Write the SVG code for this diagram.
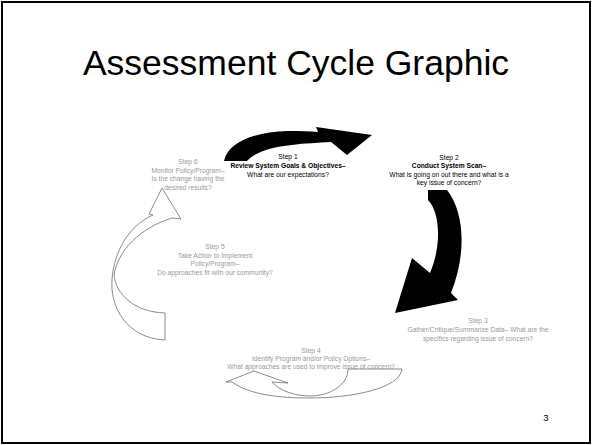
<svg xmlns="http://www.w3.org/2000/svg" width="592" height="445" viewBox="0 0 592 445">
<style>
.t{font-family:"Liberation Sans",Arial,sans-serif;text-anchor:middle}
.s{font-size:6.7px}
.k{fill:#000}
.g{fill:#9a9a9a}
.b{font-weight:bold}
.blk{fill:#000;stroke:none}
.out{fill:#fff;stroke:#6e6e6e;stroke-width:0.8}
</style>
<rect x="2" y="2" width="588" height="441" fill="#fff" stroke="#000" stroke-width="2"/>
<text class="t" x="296" y="75" font-size="35.5">Assessment Cycle Graphic</text>
<g id="connectors">
<path id="arrow1" class="blk" d="M224,161 C228,143 252,132 288,131 C300,131 310,131 318,132 L316,127 L372,135 L347,155 L331,142 C318,143 305,143 292,145 C270,147 254,153 247,161 Z"/>
<path id="arrow2" class="blk" d="M428,190 L447,190 C463,210 468,250 451,293 L458,300 L395,313 L412,258 L430,273 C442,245 440,212 428,200 Z"/>
<path id="arrow3" class="out" d="M232,382 C250,395 280,398 310,398 C350,398 400,389 402,369 L348,369 C348,385 330,396 310,396 C295,396 280,391 272,382 L288,383 L254,371 L226,382 Z"/>
<path id="arrow4" class="out" d="M165,340 C125,338 110,305 112,280 C114,250 130,225 153,215 L149,214 L162,188 L181,219 L172,218 C140,228 118,250 114,275 C116,295 135,312 165,313 Z"/>
</g>
<g id="step1" class="t s k">
<text x="288" y="159">Step 1</text>
<text x="288" y="168" class="b">Review System Goals &amp; Objectives–</text>
<text x="288" y="177">What are our expectations?</text>
</g>
<g id="step2" class="t s k">
<text x="449" y="160">Step 2</text>
<text x="449" y="168" class="b">Conduct System Scan–</text>
<text x="449" y="177">What is going on out there and what is a</text>
<text x="449" y="185">key issue of concern?</text>
</g>
<g id="step3" class="t s g">
<text x="478" y="323">Step 3</text>
<text x="478" y="332">Gather/Critique/Summarize Data– What are the</text>
<text x="478" y="341">specifics regarding issue of concern?</text>
</g>
<g id="step4" class="t s g">
<text x="311" y="353">Step 4</text>
<text x="311" y="361">Identify Program and/or Policy Options–</text>
<text x="311" y="369">What approaches are used to improve issue of concern?</text>
</g>
<g id="step5" class="t s g">
<text x="215" y="249">Step 5</text>
<text x="215" y="258">Take Action to Implement</text>
<text x="215" y="266">Policy/Program–</text>
<text x="215" y="275">Do approaches fit with our community?</text>
</g>
<g id="step6" class="t s g">
<text x="188" y="164">Step 6</text>
<text x="188" y="173">Monitor Policy/Program–</text>
<text x="188" y="181">Is the change having the</text>
<text x="188" y="190">desired results?</text>
</g>
<text class="t" x="546" y="421" font-size="9.5">3</text>
</svg>
